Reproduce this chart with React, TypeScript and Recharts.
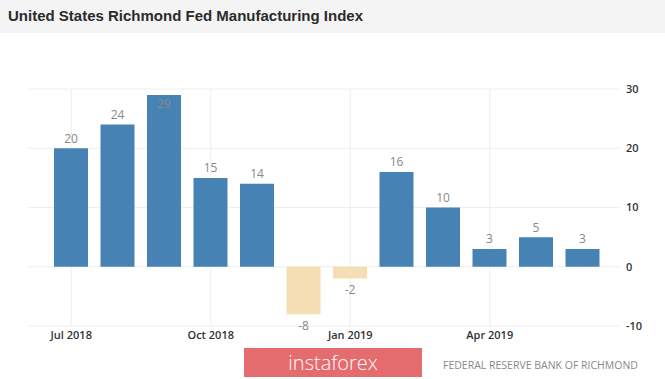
import React from 'react';
import { BarChart, Bar, XAxis, YAxis, CartesianGrid, Cell, LabelList } from 'recharts';

const months = [
  'Jul 2018', 'Aug 2018', 'Sep 2018', 'Oct 2018', 'Nov 2018', 'Dec 2018',
  'Jan 2019', 'Feb 2019', 'Mar 2019', 'Apr 2019', 'May 2019', 'Jun 2019',
];
const values = [20, 24, 29, 15, 14, -8, -2, 16, 10, 3, 5, 3];
const yTicks = [-10, 0, 10, 20, 30];
const xTicks = ['Jul 2018', 'Oct 2018', 'Jan 2019', 'Apr 2019'];

const PLOT_TOP = 89;
const BLUE = '#4682b4';
const WHEAT = '#f5deb3';

const data = months.map((m, i) => ({ month: m, value: values[i] }));

const ValueLabel = (props: any) => {
  const { x, y, width, height, value } = props;
  const cx = x + width / 2;
  let ty: number;
  if (value < 0) {
    ty = Math.max(y, y + height) + 11;
  } else {
    ty = Math.min(y, y + height) - 10;
    if (ty < PLOT_TOP) ty = Math.min(y, y + height) + 9;
  }
  return (
    <text x={cx} y={ty} textAnchor="middle" dominantBaseline="central" fill="#888" fontSize={12} fontFamily="Open Sans, sans-serif">
      {value}
    </text>
  );
};

export default function App() {
  return (
    <div style={{ position: 'absolute', left: 0, top: 0, width: 665, height: 379, background: '#fff', overflow: 'hidden' }}>
      <div style={{ position: 'absolute', left: 0, top: 0, width: 665, height: 33, background: '#f4f4f4' }} />
      <div style={{ position: 'absolute', left: 8, top: 7, fontFamily: 'Liberation Sans, Arial, sans-serif', fontWeight: 700, fontSize: 15, color: '#2b2b2b' }}>
        United States Richmond Fed Manufacturing Index
      </div>
      <BarChart width={665} height={379} data={data} margin={{ top: PLOT_TOP, right: 0, bottom: 33, left: 28 }}>
        <CartesianGrid stroke="#eeeeee" vertical={false} />
        <CartesianGrid stroke="#eeeeee" horizontal={false} verticalValues={xTicks} syncWithTicks />
        <XAxis
          dataKey="month"
          ticks={xTicks}
          interval={0}
          axisLine={false}
          tickLine={false}
          tickSize={0}
          tickMargin={5}
          height={20}
          padding={{ left: 20, right: 14 }}
          tick={{ fill: '#333', fontSize: 11, fontWeight: 600, fontFamily: 'Open Sans, sans-serif' }}
        />
        <YAxis
          orientation="right"
          domain={[-10, 30]}
          ticks={yTicks}
          axisLine={false}
          tickLine={false}
          tickSize={0}
          tickMargin={6}
          width={45}
          tick={{ fill: '#333', fontSize: 11, fontWeight: 600, fontFamily: 'Open Sans, sans-serif', textAnchor: 'start' }}
        />
        <Bar dataKey="value" barSize={34} isAnimationActive={false}>
          {data.map((d, i) => (
            <Cell key={i} fill={d.value < 0 ? WHEAT : BLUE} />
          ))}
          <LabelList dataKey="value" content={<ValueLabel />} />
        </Bar>
      </BarChart>
      <div style={{ position: 'absolute', left: 244, top: 348, width: 178, height: 29, background: '#e46b6e', color: '#fff', fontFamily: 'Open Sans, sans-serif', fontWeight: 300, fontSize: 20, lineHeight: '29px', textAlign: 'center' }}>
        instaforex
      </div>
      <div style={{ position: 'absolute', left: 443, top: 358, fontFamily: 'Open Sans, sans-serif', fontSize: 10.5, color: '#888', whiteSpace: 'nowrap' }}>
        FEDERAL RESERVE BANK OF RICHMOND
      </div>
    </div>
  );
}
